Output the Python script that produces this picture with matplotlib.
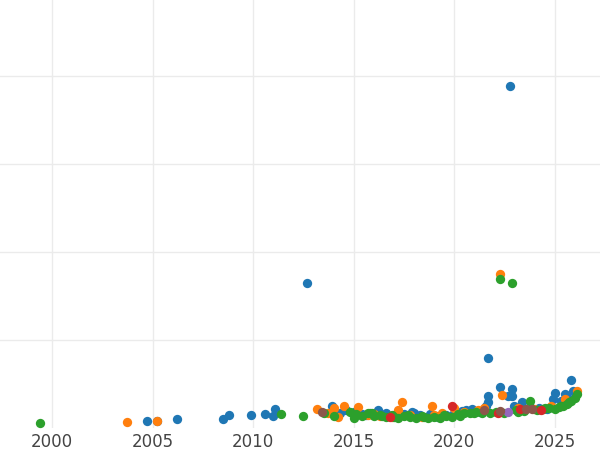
import matplotlib
matplotlib.use("Agg")
import matplotlib.pyplot as plt

blue_x = [2004.7, 2005.2, 2006.2, 2008.5, 2008.8, 2009.9, 2010.6, 2011.1, 2011.0, 2012.7, 2013.9, 2014.6,
          2015.0, 2015.4, 2015.8, 2016.2, 2016.6, 2017.0, 2017.5, 2017.9, 2018.3, 2018.8, 2019.2, 2019.6,
          2020.0, 2020.4, 2020.9, 2021.3, 2021.7, 2021.7, 2021.7, 2022.3, 2022.8, 2022.9, 2022.9, 2022.7,
          2023.4, 2023.8, 2024.2, 2024.6, 2025.0, 2025.3, 2025.6, 2025.8, 2025.9, 2014.3, 2015.6, 2016.9,
          2018.0, 2019.1, 2020.6, 2021.6, 2023.0, 2024.9, 2025.5]
blue_y = [7, 7, 10, 10, 14, 14, 15, 21, 13, 164, 24, 20,
          18, 15, 17, 20, 16, 14, 15, 18, 14, 15, 12, 14,
          16, 19, 21, 18, 79, 36, 29, 46, 388, 36, 44, 36,
          29, 23, 22, 21, 39, 30, 35, 54, 42, 16, 14, 13,
          16, 13, 20, 24, 25, 32, 38]
orange_x = [2003.7, 2005.2, 2013.2, 2013.7, 2014.2, 2014.5, 2015.2, 2015.7, 2016.3, 2016.9, 2017.4,
            2017.8, 2018.4, 2018.9, 2019.4, 2020.0, 2020.5, 2021.2, 2022.3, 2022.4, 2023.2, 2024.0,
            2024.8, 2025.5, 2026.1, 2014.0, 2016.0, 2017.2, 2019.0, 2021.5]
orange_y = [6, 7, 21, 16, 12, 25, 23, 14, 13, 12, 29,
            14, 12, 24, 16, 22, 18, 20, 175, 37, 22, 21,
            24, 32, 41, 22, 15, 20, 14, 22]
green_x = [1999.4, 2011.4, 2012.5, 2013.5, 2014.0, 2014.8, 2015.1, 2015.4, 2015.7, 2016.0, 2016.3, 2016.6,
           2016.9, 2017.2, 2017.5, 2017.8, 2018.1, 2018.4, 2018.7, 2019.0, 2019.3, 2019.6, 2019.9, 2020.2,
           2020.5, 2020.8, 2021.1, 2021.4, 2021.8, 2022.1, 2022.3, 2022.5, 2022.9, 2023.2, 2023.5, 2023.8,
           2024.1, 2024.4, 2024.7, 2025.0, 2025.2, 2025.4, 2025.6, 2025.8, 2026.0, 2026.1, 2015.0, 2015.9,
           2016.4, 2017.0, 2017.7, 2018.5, 2019.5, 2020.3, 2021.0, 2023.1, 2024.5, 2025.3, 2025.7]
green_y = [5, 15, 13, 16, 13, 18, 15, 13, 16, 13, 14, 12,
           14, 11, 13, 12, 11, 13, 11, 12, 11, 13, 12, 15,
           16, 17, 18, 17, 16, 18, 169, 17, 164, 18, 19, 30,
           20, 21, 22, 21, 23, 25, 27, 30, 33, 38, 11, 16,
           13, 12, 14, 12, 14, 13, 16, 20, 22, 25, 29]
red_x = [2016.8, 2019.9, 2022.2, 2023.3, 2024.3]
red_y = [12, 24, 16, 21, 20]
purple_x = [2022.7]
purple_y = [18]
brown_x = [2013.4, 2021.5, 2022.3, 2023.6, 2023.9]
brown_y = [18, 20, 19, 21, 21]

fig = plt.figure(figsize=(6, 4.5), dpi=100)
ax = fig.add_axes([0, 0.05, 1, 0.95])
series = [(blue_x, blue_y, "#1f77b4"), (orange_x, orange_y, "#ff7f0e"), (green_x, green_y, "#2ca02c"),
          (red_x, red_y, "#d62728"), (purple_x, purple_y, "#9467bd"), (brown_x, brown_y, "#8c564b")]
for xs, ys, c in series:
    ax.scatter(xs, ys, s=45, color=c, linewidths=0, zorder=3)
ax.set_xlim(1997.4, 2027.26)
ax.set_ylim(0, 486)
ax.set_xticks([2000, 2005, 2010, 2015, 2020, 2025])
ax.set_yticks([100, 200, 300, 400])
ax.set_yticklabels([])
ax.grid(True, color="#ebebeb", linewidth=1, zorder=0)
for s in ax.spines.values():
    s.set_visible(False)
ax.tick_params(length=0, labelsize=12, labelcolor="#444444", pad=4)
fig.savefig("out.png", dpi=100)
